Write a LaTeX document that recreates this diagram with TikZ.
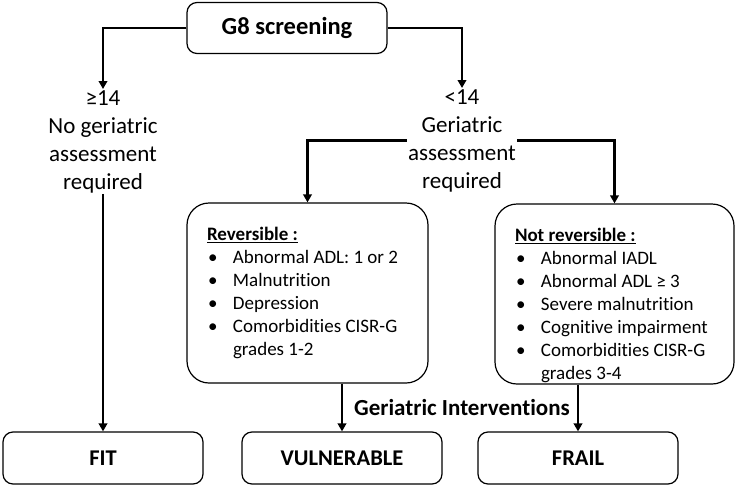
\documentclass[tikz,border=0pt]{standalone}
\usepackage{fontspec}
\setmainfont{Carlito}[Ligatures={TeX,NoCommon}]
\usetikzlibrary{arrows.meta}
\newcommand{\bul}{\makebox[26pt][l]{\hspace{1pt}\textbullet}}
\newcommand{\cont}{\hspace*{26pt}}

\begin{document}
\begin{tikzpicture}[x=1pt, y=-1pt,
        box/.style={draw, line width=1.2pt, rounded corners=10pt, minimum width=200pt, minimum height=52pt, font=\fontsize{22.5}{26}\selectfont\bfseries},
        listbox/.style={draw, line width=1.2pt, rounded corners=22pt, inner xsep=20pt, inner ysep=12pt, font=\fontsize{19}{23}\selectfont},
        lbl/.style={align=center, inner sep=1pt, font=\fontsize{23}{28}\selectfont},
        arr/.style={line width=2.5pt, -{Triangle[length=8pt,width=8.5pt]}}]
            \useasboundingbox (0,0) rectangle (737,488);

            \node[box, minimum height=51pt, font=\fontsize{24.5}{28}\selectfont\bfseries] (g8) at (287,28) {G8 screening};

            \node[lbl, anchor=north] (ge14) at (103,89) {≥14\\No geriatric\\assessment\\required};
            \node[lbl, anchor=north] (lt14) at (462,88) {<14\\Geriatric\\assessment\\required};

            \node[listbox] (rev) at (307.5,293) {\begin{minipage}[c][156pt][t]{201pt}
                \vspace*{12pt}\underline{\textbf{Reversible :}}\\
                \bul Abnormal ADL: 1 or 2\\
                \bul Malnutrition\\
                \bul Depression\\
                \bul Comorbidities CISR-G\\
                \cont grades 1-2
            \end{minipage}};
            \node[listbox] (nrev) at (614.5,294) {\begin{minipage}[c][156pt][t]{199pt}
                \vspace*{12pt}\underline{\textbf{Not reversible :}}\\
                \bul Abnormal IADL\\
                \bul Abnormal ADL ≥ 3\\
                \bul Severe malnutrition\\
                \bul Cognitive impairment\\
                \bul Comorbidities CISR-G\\
                \cont grades 3-4
            \end{minipage}};

            \node[box] (fit) at (103,458) {FIT};
            \node[box] (vul) at (342,458) {VULNERABLE};
            \node[box] (frail) at (578,458) {FRAIL};

            \node[font=\fontsize{23}{26}\selectfont\bfseries] (gi) at (462,408) {Geriatric Interventions};

            \draw[arr] (g8.west) -| (ge14.north);
            \draw[arr] (g8.east) -| (lt14.north);
            \draw[arr] (lt14.west) -| (rev.north);
            \draw[arr] (lt14.east) -| (nrev.north);
            \draw[arr] (ge14.south) -- (fit.north);
            \draw[arr] (vul.north |- rev.south) -- (vul.north);
            \draw[arr] (frail.north |- nrev.south) -- (frail.north);
        \end{tikzpicture}
\end{document}
